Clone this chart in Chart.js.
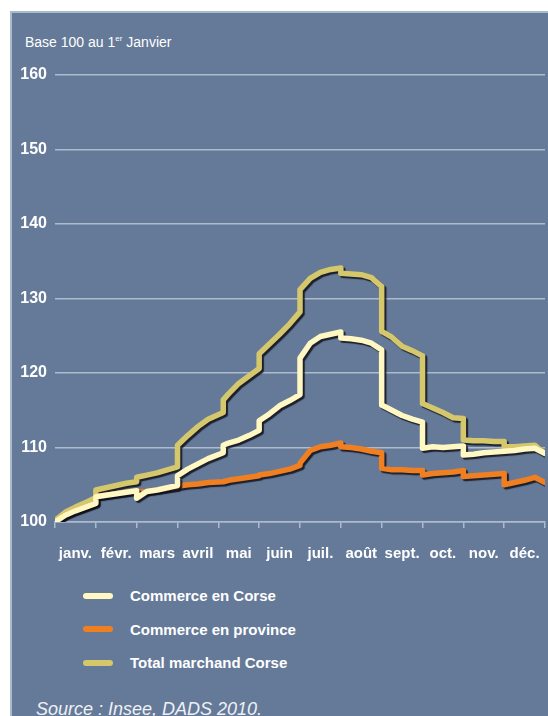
<!DOCTYPE html>
<html lang="fr">
<head>
<meta charset="utf-8">
<script src="https://cdn.jsdelivr.net/npm/chart.js@4.4.1/dist/chart.umd.min.js"></script>
<style>
  html, body { margin: 0; padding: 0; background: #fff; }
  body { width: 548px; height: 716px; position: relative; overflow: hidden; font-family: "Liberation Sans", Arial, sans-serif; }
  #panel { position: absolute; left: 10px; top: 11px; width: 560px; height: 720px; background: #657a98; border-left: 2px solid #aab9cc; border-top: 2px solid #aab9cc; }
  #chart-box { position: absolute; left: 0; top: 0; width: 548px; height: 575px; }
  #base { position: absolute; left: 25px; top: 34px; color: #fff; font-size: 14px; }
  #base sup { font-size: 8px; }
  #legend { position: absolute; left: 83px; top: 579px; }
  .item { height: 33.5px; display: flex; align-items: center; color: #fff; font-weight: bold; font-size: 15px; }
  .swatch { width: 30px; height: 6px; border-radius: 3px; margin-right: 17px; }
  #source { position: absolute; left: 36px; top: 699px; color: #eef1f5; font-style: italic; font-size: 18px; }
</style>
</head>
<body>
<div id="panel"></div>
<div id="base">Base 100 au 1<sup>er</sup> Janvier</div>
<div id="chart-box"><canvas id="chart"></canvas></div>
<div id="legend"></div>
<div id="source">Source : Insee, DADS 2010.</div>
<script>
// month labels and y ticks
const months = ["janv.", "févr.", "mars", "avril", "mai", "juin", "juil.", "août", "sept.", "oct.", "nov.", "déc."];
const yMin = 100, yMax = 160, yStep = 10;

// positions in months since 1 January (month starts are repeated for the jumps)
const xPos = [
  0, 0.25, 0.5, 0.75, 1,
  1, 1.25, 1.5, 1.75, 2,
  2, 2.25, 2.5, 2.75, 3,
  3, 3.25, 3.5, 3.75, 4.12,
  4.12, 4.25, 4.5, 4.75, 5,
  5, 5.25, 5.5, 5.75, 6,
  6, 6.25, 6.5, 6.75, 7,
  7, 7.25, 7.5, 7.75, 8,
  8, 8.25, 8.5, 8.75, 9,
  9, 9.25, 9.5, 9.75, 10,
  10, 10.25, 10.5, 10.75, 11,
  11, 11.25, 11.5, 11.75, 12
];

const commerceCorse = [
  100.0, 100.9, 101.5, 102.0, 102.5,
  103.4, 103.6, 103.8, 104.0, 104.2,
  103.2, 104.1, 104.3, 104.6, 104.9,
  106.2, 107.1, 107.8, 108.5, 109.3,
  110.3, 110.6, 111.0, 111.6, 112.3,
  113.6, 114.5, 115.6, 116.3, 117.1,
  122.0, 124.0, 124.9, 125.2, 125.5,
  124.7, 124.6, 124.4, 124.0, 123.1,
  115.7, 115.0, 114.3, 113.8, 113.4,
  109.9, 110.1, 110.0, 110.1, 110.2,
  109.0, 109.1, 109.3, 109.4, 109.5,
  109.5, 109.6, 109.8, 109.9, 109.2
];

const commerceProvince = [
  100.0, 100.9, 101.5, 102.0, 102.5,
  103.4, 103.6, 103.8, 104.0, 104.2,
  104.0, 104.1, 104.3, 104.5, 104.7,
  104.8, 105.0, 105.1, 105.3, 105.4,
  105.4, 105.6, 105.8, 106.0, 106.2,
  106.3, 106.5, 106.8, 107.1, 107.6,
  107.9, 109.6, 110.1, 110.3, 110.6,
  110.1, 110.0, 109.8, 109.5, 109.3,
  107.2, 107.0, 107.0, 106.9, 106.9,
  106.3, 106.5, 106.6, 106.7, 106.9,
  106.1, 106.2, 106.3, 106.4, 106.5,
  105.0, 105.3, 105.6, 106.0, 105.3
];

const totalCorse = [
  100.2, 101.3, 102.0, 102.6, 103.3,
  104.3, 104.6, 104.9, 105.2, 105.4,
  106.0, 106.3, 106.6, 107.0, 107.4,
  110.3, 111.6, 112.8, 113.8, 114.7,
  116.4, 117.2, 118.6, 119.6, 120.6,
  122.6, 123.9, 125.2, 126.6, 128.2,
  131.2, 132.7, 133.5, 133.9, 134.1,
  133.4, 133.3, 133.2, 132.8, 131.6,
  125.6, 124.8, 123.6, 123.0, 122.3,
  115.9, 115.3, 114.7, 114.0, 113.9,
  111.0, 110.9, 110.9, 110.8, 110.8,
  110.1, 110.1, 110.2, 110.3, 109.2
];

const seriesNames = ["Commerce en Corse", "Commerce en province", "Total marchand Corse"];
const seriesColors = ["#fff8c2", "#f07f22", "#d5c76c"];
const seriesValues = [commerceCorse, commerceProvince, totalCorse];

const gridColor = "#aebbcc";

// dark drop shadow under each line
const lineShadow = {
  id: "lineShadow",
  beforeDatasetDraw(chart) {
    const c = chart.ctx;
    c.save();
    c.shadowColor = "rgba(15,15,25,0.85)";
    c.shadowOffsetX = 2;
    c.shadowOffsetY = 2;
    c.shadowBlur = 1;
  },
  afterDatasetDraw(chart) {
    chart.ctx.restore();
  }
};

const ctx = document.getElementById("chart").getContext("2d");
const chart = new Chart(ctx, {
  type: "line",
  data: {
    datasets: seriesNames.map((name, i) => ({
      label: name,
      data: xPos.map((x, j) => ({ x: x, y: seriesValues[i][j] })),
      borderColor: seriesColors[i],
      backgroundColor: seriesColors[i],
      borderWidth: 5.5,
      borderJoinStyle: "round",
      borderCapStyle: "round",
      pointRadius: 0,
      tension: 0,
      fill: false
    }))
  },
  options: {
    responsive: true,
    maintainAspectRatio: false,
    animation: false,
    layout: { padding: { left: 10, right: 3, top: 75, bottom: 8 } },
    plugins: {
      legend: { display: false },
      title: { display: false },
      tooltip: { enabled: false }
    },
    scales: {
      x: {
        type: "linear",
        min: 0,
        max: 12,
        afterFit: s => { s.height = 45; s.paddingLeft = 0; s.paddingRight = 0; },
        grid: { drawOnChartArea: false, drawTicks: true, tickLength: 6, color: gridColor, lineWidth: 1.5 },
        border: { display: true, color: gridColor, width: 1.5 },
        ticks: {
          stepSize: 1,
          autoSkip: false,
          maxRotation: 0,
          labelOffset: 20.4,
          padding: 17,
          color: "#fff",
          font: { family: "'Liberation Sans', Arial, sans-serif", size: 15, weight: "bold" },
          callback: v => months[v] || ""
        }
      },
      y: {
        min: yMin,
        max: yMax,
        afterFit: s => { s.width = 45; },
        grid: { drawTicks: false, color: gridColor, lineWidth: 1.5 },
        border: { display: false },
        ticks: {
          stepSize: yStep,
          padding: 8,
          color: "#fff",
          font: { family: "'Liberation Sans', Arial, sans-serif", size: 16, weight: "bold" }
        }
      }
    }
  },
  plugins: [lineShadow]
});

// legend built from the datasets
const legend = document.getElementById("legend");
chart.data.datasets.forEach(ds => {
  const item = document.createElement("div");
  item.className = "item";
  const sw = document.createElement("span");
  sw.className = "swatch";
  sw.style.background = ds.borderColor;
  item.appendChild(sw);
  item.appendChild(document.createTextNode(ds.label));
  legend.appendChild(item);
});
</script>
</body>
</html>
